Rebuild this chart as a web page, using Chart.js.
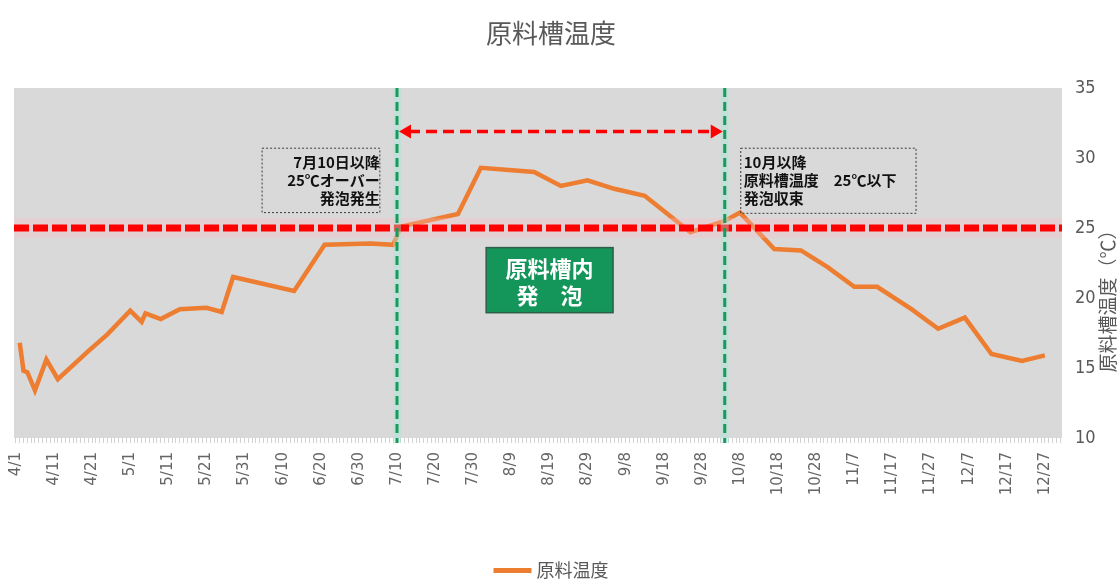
<!DOCTYPE html>
<html lang="ja">
<head>
<meta charset="UTF-8">
<title>原料槽温度</title>
<script src="https://cdn.jsdelivr.net/npm/chart.js"></script>
<style>
  html, body { margin: 0; padding: 0; background: #fff; }
  #wrap { width: 1120px; height: 585px; }
</style>
</head>
<body>
<div id="wrap"><canvas id="tempChart"></canvas></div>
<script>
  // axis runs day by day from 4/1 to 12/31
  const monthNums = [4, 5, 6, 7, 8, 9, 10, 11, 12];
  const monthLengths = [30, 31, 30, 31, 31, 30, 31, 30, 31];

  // measured tank temperature (℃)
  const sampleDates = [
    '4/2', '4/3', '4/4', '4/6', '4/9', '4/12', '4/20', '4/25',
    '5/1', '5/4', '5/5', '5/9', '5/14', '5/21', '5/25', '5/28',
    '6/13', '6/21', '7/3', '7/9', '7/11', '7/26',
    '8/1', '8/15', '8/22', '8/29', '9/5', '9/13', '9/19', '9/25',
    '10/4', '10/8', '10/17', '10/24', '10/31',
    '11/7', '11/13', '11/22', '11/29', '12/6', '12/13', '12/21', '12/27'
  ];
  const tankTemps = [
    16.8, 14.8, 14.7, 13.4, 15.6, 14.2, 16.2, 17.4,
    19.1, 18.3, 18.9, 18.5, 19.2, 19.3, 19.0, 21.5,
    20.5, 23.8, 23.9, 23.8, 25.1, 26.0,
    29.3, 29.0, 28.0, 28.4, 27.8, 27.3, 26.0, 24.7,
    25.5, 26.1, 23.5, 23.4, 22.2,
    20.8, 20.8, 19.2, 17.8, 18.6, 16.0, 15.5, 15.9
  ];

  const chartTitle = '原料槽温度';
  const axisTitle = '原料槽温度（℃）';
  const seriesName = '原料温度';
  const yMin = 10, yMax = 35, yStep = 5;
  const limitTemp = 25;            // foaming threshold
  const foamStart = '7/10';
  const foamEnd = '10/4';

  const dayLabels = [];
  monthNums.forEach((m, i) => {
    for (let d = 1; d <= monthLengths[i]; d++) dayLabels.push(m + '/' + d);
  });

  const lineColor = '#ED7D31';
  const textGray = '#595959';
  const jpFont = "'Noto Sans CJK JP', 'Noto Sans', sans-serif";

  function dashedLine(ctx, x1, y1, x2, y2, width, color, dash) {
    ctx.save();
    ctx.beginPath();
    ctx.setLineDash(dash);
    ctx.lineWidth = width;
    ctx.strokeStyle = color;
    ctx.moveTo(x1, y1);
    ctx.lineTo(x2, y2);
    ctx.stroke();
    ctx.restore();
  }

  function noteBox(ctx, l, t, r, b, lines, align) {
    ctx.save();
    ctx.setLineDash([2, 2]);
    ctx.lineWidth = 1;
    ctx.strokeStyle = '#3a3a3a';
    ctx.strokeRect(l, t, r - l, b - t);
    ctx.setLineDash([]);
    ctx.fillStyle = '#111';
    ctx.font = 'bold 15px ' + jpFont;
    ctx.textBaseline = 'middle';
    ctx.textAlign = align;
    const tx = align === 'right' ? r : l + 3;
    lines.forEach((s, i) => ctx.fillText(s, tx, t + 14 + i * 18));
    ctx.restore();
  }

  const overlay = {
    id: 'overlay',
    beforeDraw(chart) {
      const a = chart.chartArea;
      const ctx = chart.ctx;
      ctx.save();
      ctx.fillStyle = '#D9D9D9';
      ctx.fillRect(a.left, a.top, a.right - a.left, a.bottom - a.top);
      ctx.restore();
    },
    afterDatasetsDraw(chart) {
      const ctx = chart.ctx;
      const a = chart.chartArea;
      const xs = chart.scales.x, ys = chart.scales.y;
      const X = v => xs.getPixelForValue(v);
      const Y = v => ys.getPixelForValue(v);

      // 25℃ threshold
      const yLim = Y(limitTemp);
      dashedLine(ctx, a.left, yLim, a.right, yLim, 20, 'rgba(255,185,200,0.3)', []);
      dashedLine(ctx, a.left, yLim, a.right, yLim, 7, '#FF0000', [15, 4]);

      // start / end of foaming period
      const xs1 = X(dayLabels.indexOf(foamStart));
      const xs2 = X(dayLabels.indexOf(foamEnd));
      [xs1, xs2].forEach(x => {
        dashedLine(ctx, x, a.top, x, a.bottom + 5, 8, 'rgba(160,235,215,0.4)', []);
        dashedLine(ctx, x, a.top, x, a.bottom + 5, 3, '#179A5C', [9, 5]);
      });

      // double arrow between the two markers
      const ya = Y(31.9);
      const l = xs1 + 2, r = xs2 - 2, head = 12, hw = 7;
      dashedLine(ctx, l + head - 2, ya, r - head + 2, ya, 3.5, '#FF0000', [11, 6]);
      ctx.save();
      ctx.fillStyle = '#FF0000';
      ctx.beginPath();
      ctx.moveTo(l, ya); ctx.lineTo(l + head, ya - hw); ctx.lineTo(l + head, ya + hw);
      ctx.closePath(); ctx.fill();
      ctx.beginPath();
      ctx.moveTo(r, ya); ctx.lineTo(r - head, ya - hw); ctx.lineTo(r - head, ya + hw);
      ctx.closePath(); ctx.fill();
      ctx.restore();

      noteBox(ctx, X(64.6), Y(30.7), X(95.5), Y(26.1),
        ['7月10日以降', '25℃オーバー', '発泡発生'], 'right');
      noteBox(ctx, X(190.2), Y(30.7), X(236.2), Y(26.05),
        ['10月以降', '原料槽温度　25℃以下', '発泡収束'], 'left');

      // green label box
      const gl = X(123.4), gr = X(156.7), gt = Y(23.6), gb = Y(18.95);
      ctx.save();
      ctx.fillStyle = '#14955A';
      ctx.fillRect(gl, gt, gr - gl, gb - gt);
      ctx.lineWidth = 1.5;
      ctx.strokeStyle = '#2D5F48';
      ctx.strokeRect(gl, gt, gr - gl, gb - gt);
      ctx.fillStyle = '#fff';
      ctx.font = 'bold 22px ' + jpFont;
      ctx.textAlign = 'center';
      ctx.textBaseline = 'middle';
      const cx = (gl + gr) / 2;
      ctx.fillText('原料槽内', cx, gt + 21);
      ctx.fillText('発　泡', cx, gt + 48);
      ctx.restore();
    },
    afterDraw(chart) {
      const ctx = chart.ctx;
      const ys = chart.scales.y;
      const mid = 551;
      ctx.save();
      ctx.fillStyle = textGray;
      ctx.textBaseline = 'middle';

      // chart title
      ctx.textAlign = 'center';
      ctx.font = '26px ' + jpFont;
      ctx.fillText(chartTitle, mid, 33);

      // legend: line swatch + series name
      ctx.font = '18px ' + jpFont;
      const tw = ctx.measureText(seriesName).width;
      const lx = mid - (tw + 43) / 2;
      ctx.fillStyle = lineColor;
      ctx.fillRect(lx, 568, 38, 5);
      ctx.fillStyle = textGray;
      ctx.textAlign = 'left';
      ctx.fillText(seriesName, lx + 43, 570);

      // right axis title, reading upward
      ctx.translate(chart.chartArea.right + 46, ys.getPixelForValue(20.1));
      ctx.rotate(-Math.PI / 2);
      ctx.textAlign = 'center';
      ctx.font = '19px ' + jpFont;
      ctx.fillText(axisTitle, 0, 0);
      ctx.restore();
    }
  };

  new Chart(document.getElementById('tempChart'), {
    type: 'line',
    data: {
      labels: dayLabels,
      datasets: [{
        label: seriesName,
        data: sampleDates.map((d, i) => ({ x: d, y: tankTemps[i] })),
        borderColor: lineColor,
        backgroundColor: lineColor,
        borderWidth: 4.5,
        pointRadius: 0,
        tension: 0
      }]
    },
    options: {
      responsive: true,
      maintainAspectRatio: false,
      animation: false,
      layout: { padding: { left: 14, right: 0, top: 88, bottom: 0 } },
      scales: {
        x: {
          offset: true,
          grid: { display: true, drawOnChartArea: false, tickLength: 5, color: '#d2d2d2' },
          border: { display: false },
          ticks: {
            autoSkip: false,
            minRotation: 90,
            maxRotation: 90,
            padding: 9,
            color: '#666',
            font: { family: "'DejaVu Sans', sans-serif", size: 15 },
            callback: (v, i) => (i % 10 === 0 ? dayLabels[i] : '')
          },
          afterFit: s => { s.height = 147; }
        },
        y: {
          position: 'right',
          min: yMin,
          max: yMax,
          grid: { display: false, drawTicks: false },
          border: { display: false },
          ticks: {
            stepSize: yStep,
            padding: 13,
            color: textGray,
            font: { family: "'Liberation Sans Narrow', 'DejaVu Sans Condensed', sans-serif", size: 18 }
          },
          afterFit: s => { s.width = 58; }
        }
      },
      plugins: {
        title: { display: false },
        legend: { display: false },
        tooltip: { enabled: false }
      }
    },
    plugins: [overlay]
  });
</script>
</body>
</html>
